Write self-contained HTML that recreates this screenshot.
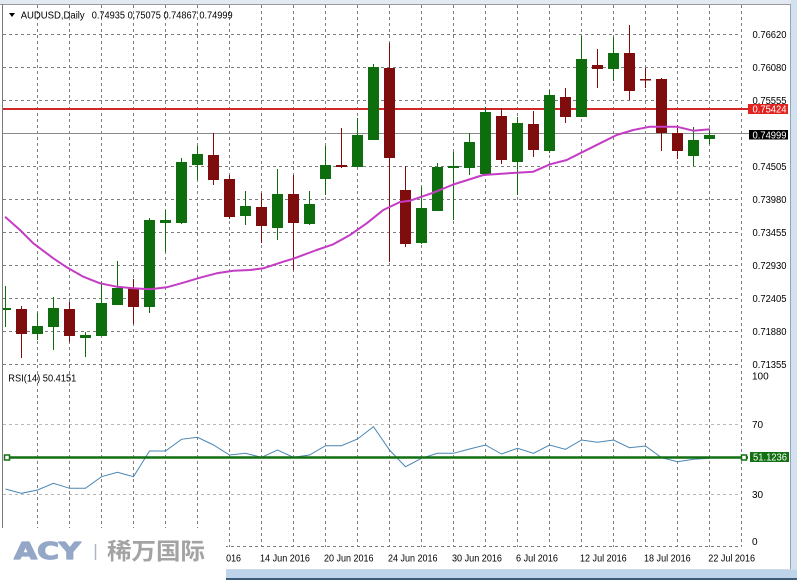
<!DOCTYPE html>
<html><head><meta charset="utf-8"><style>
html,body{margin:0;padding:0;background:#fff;width:797px;height:580px;overflow:hidden}
svg{display:block}
</style></head><body>
<svg width="797" height="580" viewBox="0 0 797 580" xmlns="http://www.w3.org/2000/svg" font-family="'Liberation Sans', sans-serif">
<defs><clipPath id="plot"><rect x="3" y="5" width="739" height="542"/></clipPath></defs>
<rect width="797" height="580" fill="#fff"/>
<!-- frame -->
<rect x="0" y="0" width="797" height="4" fill="#e3e9f0"/>
<line x1="0" y1="4.5" x2="797" y2="4.5" stroke="#9a9a9a"/>
<line x1="2.5" y1="4" x2="2.5" y2="570" stroke="#7a7a7a"/>
<rect x="791" y="0" width="6" height="580" fill="#d3e1ef"/>
<line x1="790.5" y1="4" x2="790.5" y2="570" stroke="#8fa5bb"/>
<line x1="0" y1="569.5" x2="797" y2="569.5" stroke="#d0dae4"/>
<rect x="0" y="570" width="797" height="8" fill="#bdd4eb"/>
<rect x="0" y="578" width="797" height="2" fill="#3e5b79"/>

<!-- vertical grid -->
<g stroke="#7d7d7d" stroke-dasharray="3,3" stroke-width="1">
<line x1="37.5" y1="5" x2="37.5" y2="547"/><line x1="69.5" y1="5" x2="69.5" y2="547"/>
<line x1="101.5" y1="5" x2="101.5" y2="547"/><line x1="133.5" y1="5" x2="133.5" y2="547"/>
<line x1="165.5" y1="5" x2="165.5" y2="547"/><line x1="197.5" y1="5" x2="197.5" y2="547"/>
<line x1="229.5" y1="5" x2="229.5" y2="547"/><line x1="261.5" y1="5" x2="261.5" y2="547"/>
<line x1="293.5" y1="5" x2="293.5" y2="547"/><line x1="325.5" y1="5" x2="325.5" y2="547"/>
<line x1="357.5" y1="5" x2="357.5" y2="547"/><line x1="389.5" y1="5" x2="389.5" y2="547"/>
<line x1="421.5" y1="5" x2="421.5" y2="547"/><line x1="453.5" y1="5" x2="453.5" y2="547"/>
<line x1="485.5" y1="5" x2="485.5" y2="547"/><line x1="517.5" y1="5" x2="517.5" y2="547"/>
<line x1="549.5" y1="5" x2="549.5" y2="547"/><line x1="581.5" y1="5" x2="581.5" y2="547"/>
<line x1="613.5" y1="5" x2="613.5" y2="547"/><line x1="645.5" y1="5" x2="645.5" y2="547"/>
<line x1="677.5" y1="5" x2="677.5" y2="547"/><line x1="709.5" y1="5" x2="709.5" y2="547"/>
<line x1="741.5" y1="5" x2="741.5" y2="547"/>
<!-- horizontal grid main -->
<line x1="3" y1="34.5" x2="741" y2="34.5"/><line x1="3" y1="67.5" x2="741" y2="67.5"/>
<line x1="3" y1="100.5" x2="741" y2="100.5"/><line x1="3" y1="166.5" x2="741" y2="166.5"/>
<line x1="3" y1="199.5" x2="741" y2="199.5"/><line x1="3" y1="232.5" x2="741" y2="232.5"/>
<line x1="3" y1="265.5" x2="741" y2="265.5"/><line x1="3" y1="298.5" x2="741" y2="298.5"/>
<line x1="3" y1="331.5" x2="741" y2="331.5"/><line x1="3" y1="364.5" x2="741" y2="364.5"/>
<line x1="3" y1="546.5" x2="741" y2="546.5"/>
</g>
<g stroke="#b8b8b8" stroke-dasharray="3,3" stroke-width="1">
<line x1="3" y1="424.5" x2="741" y2="424.5"/><line x1="3" y1="494.5" x2="741" y2="494.5"/>
</g>

<!-- bid line -->
<line x1="3" y1="133.5" x2="749" y2="133.5" stroke="#8a8a8a"/>
<!-- red level line -->
<line x1="3" y1="109" x2="748" y2="109" stroke="#d02828" stroke-width="2"/>

<!-- candles -->
<g clip-path="url(#plot)">
<g stroke="#0e6e0e" fill="#0e6e0e" stroke-width="1">
<line x1="5.5" y1="286" x2="5.5" y2="327"/><rect x="0" y="308" width="11" height="2" stroke="none"/>
<line x1="37.5" y1="313" x2="37.5" y2="340"/><rect x="32" y="326" width="11" height="8" stroke="none"/>
<line x1="53.5" y1="297" x2="53.5" y2="350"/><rect x="48" y="308" width="11" height="19" stroke="none"/>
<line x1="85.5" y1="332" x2="85.5" y2="357"/><rect x="80" y="335" width="11" height="3" stroke="none"/>
<line x1="101.5" y1="282" x2="101.5" y2="336"/><rect x="96" y="303" width="11" height="33" stroke="none"/>
<line x1="117.5" y1="261" x2="117.5" y2="305"/><rect x="112" y="288" width="11" height="17" stroke="none"/>
<line x1="149.5" y1="218" x2="149.5" y2="313"/><rect x="144" y="220" width="11" height="87" stroke="none"/>
<line x1="165.5" y1="210" x2="165.5" y2="252"/><rect x="160" y="220" width="11" height="3" stroke="none"/>
<line x1="181.5" y1="158" x2="181.5" y2="224"/><rect x="176" y="162" width="11" height="61" stroke="none"/>
<line x1="197.5" y1="146" x2="197.5" y2="180"/><rect x="192" y="154" width="11" height="11" stroke="none"/>
<line x1="245.5" y1="191" x2="245.5" y2="225"/><rect x="240" y="206" width="11" height="10" stroke="none"/>
<line x1="277.5" y1="169" x2="277.5" y2="240"/><rect x="272" y="194" width="11" height="34" stroke="none"/>
<line x1="309.5" y1="191" x2="309.5" y2="225"/><rect x="304" y="204" width="11" height="20" stroke="none"/>
<line x1="325.5" y1="146" x2="325.5" y2="195"/><rect x="320" y="165" width="11" height="14" stroke="none"/>
<line x1="357.5" y1="118" x2="357.5" y2="167"/><rect x="352" y="135" width="11" height="32" stroke="none"/>
<line x1="373.5" y1="64" x2="373.5" y2="140"/><rect x="368" y="67" width="11" height="73" stroke="none"/>
<line x1="421.5" y1="187" x2="421.5" y2="244"/><rect x="416" y="208" width="11" height="35" stroke="none"/>
<line x1="437.5" y1="163" x2="437.5" y2="211"/><rect x="432" y="167" width="11" height="44" stroke="none"/>
<line x1="453.5" y1="152" x2="453.5" y2="220"/><rect x="448" y="166" width="11" height="2" stroke="none"/>
<line x1="469.5" y1="133" x2="469.5" y2="175"/><rect x="464" y="142" width="11" height="26" stroke="none"/>
<line x1="485.5" y1="107" x2="485.5" y2="174"/><rect x="480" y="112" width="11" height="62" stroke="none"/>
<line x1="517.5" y1="117" x2="517.5" y2="195"/><rect x="512" y="123" width="11" height="39" stroke="none"/>
<line x1="549.5" y1="90" x2="549.5" y2="153"/><rect x="544" y="95" width="11" height="56" stroke="none"/>
<line x1="581.5" y1="36" x2="581.5" y2="117"/><rect x="576" y="59" width="11" height="58" stroke="none"/>
<line x1="613.5" y1="37" x2="613.5" y2="81"/><rect x="608" y="53" width="11" height="16" stroke="none"/>
<line x1="693.5" y1="127" x2="693.5" y2="166"/><rect x="688" y="140" width="11" height="16" stroke="none"/>
<line x1="709.5" y1="130" x2="709.5" y2="144"/><rect x="704" y="135" width="11" height="4" stroke="none"/>
</g>
<g stroke="#800d0d" fill="#800d0d" stroke-width="1">
<line x1="21.5" y1="306" x2="21.5" y2="358"/><rect x="16" y="309" width="11" height="25" stroke="none"/>
<line x1="69.5" y1="302" x2="69.5" y2="342"/><rect x="64" y="309" width="11" height="27" stroke="none"/>
<line x1="133.5" y1="279" x2="133.5" y2="324"/><rect x="128" y="288" width="11" height="19" stroke="none"/>
<line x1="213.5" y1="133" x2="213.5" y2="185"/><rect x="208" y="155" width="11" height="25" stroke="none"/>
<line x1="229.5" y1="175" x2="229.5" y2="219"/><rect x="224" y="179" width="11" height="38" stroke="none"/>
<line x1="261.5" y1="193" x2="261.5" y2="243"/><rect x="256" y="207" width="11" height="19" stroke="none"/>
<line x1="293.5" y1="175" x2="293.5" y2="270"/><rect x="288" y="194" width="11" height="29" stroke="none"/>
<line x1="341.5" y1="128" x2="341.5" y2="168"/><rect x="336" y="165" width="11" height="2" stroke="none"/>
<line x1="389.5" y1="43" x2="389.5" y2="262"/><rect x="384" y="68" width="11" height="90" stroke="none"/>
<line x1="405.5" y1="166" x2="405.5" y2="247"/><rect x="400" y="190" width="11" height="54" stroke="none"/>
<line x1="501.5" y1="108" x2="501.5" y2="164"/><rect x="496" y="116" width="11" height="44" stroke="none"/>
<line x1="533.5" y1="111" x2="533.5" y2="157"/><rect x="528" y="124" width="11" height="26" stroke="none"/>
<line x1="565.5" y1="88" x2="565.5" y2="123"/><rect x="560" y="97" width="11" height="20" stroke="none"/>
<line x1="597.5" y1="49" x2="597.5" y2="88"/><rect x="592" y="65" width="11" height="4" stroke="none"/>
<line x1="629.5" y1="25" x2="629.5" y2="100"/><rect x="624" y="53" width="11" height="38" stroke="none"/>
<line x1="645.5" y1="68" x2="645.5" y2="88"/><rect x="640" y="79" width="11" height="1.5" stroke="none"/>
<line x1="661.5" y1="78" x2="661.5" y2="151"/><rect x="656" y="79" width="11" height="54" stroke="none"/>
<line x1="677.5" y1="125" x2="677.5" y2="159"/><rect x="672" y="133" width="11" height="18" stroke="none"/>
</g>
<!-- moving average -->
<polyline fill="none" stroke="#c43cc4" stroke-width="2" stroke-linejoin="round" points="5,216.7 20,230 33.3,243.3 53.3,258.3 66.7,267.3 83.3,276.7 100,283.3 116.7,286.7 133.3,288.3 150,289.3 166.7,287.3 183.3,282.7 200,277.7 216.7,273.3 233.3,270.7 250,270 263.3,268.3 283.3,261.7 293.3,258.7 316.7,250 333.3,244.3 350,235 366.7,223.3 383.3,210 400,202 410,200.7 433.3,192.7 453.3,184.5 483.3,175 516.7,172.7 533.3,171.7 550,164.3 566.7,160 583.3,151.7 600,143.3 616.7,135 633.3,130 650,126.7 666.7,126.7 676.7,126.7 693.3,130.7 710,129.3"/>
<!-- RSI -->
<polyline fill="none" stroke="#4a86b4" stroke-width="1" points="5.5,489 21.5,493.3 37.5,490 53.5,483.3 69.5,488.3 85.5,488.3 101.5,476.7 117.5,472.3 133.5,476.7 149.5,451 165.5,451 181.5,439.3 197.5,437.3 213.5,445 229.5,455 245.5,453.3 261.5,457.3 277.5,450 293.5,457.3 309.5,455 325.5,445.7 341.5,445.7 357.5,439 373.5,426.7 389.5,450 405.5,466.7 421.5,458.3 437.5,453.3 453.5,453.3 469.5,449 485.5,445 501.5,454 517.5,448.3 533.5,453.3 549.5,445 565.5,449.3 581.5,440 597.5,442.3 613.5,440 629.5,447.7 645.5,446 661.5,457.7 677.5,461.7 693.5,459.3 709.5,458.3"/>
</g>
<!-- RSI level line -->
<line x1="4" y1="457.5" x2="748" y2="457.5" stroke="#126e12" stroke-width="2.5"/>
<rect x="4.5" y="455" width="5" height="5" fill="#fff" stroke="#126e12" stroke-width="1.5"/>
<rect x="741.5" y="455" width="5" height="5" fill="#fff" stroke="#126e12" stroke-width="1.5"/>

<!-- price axis labels -->
<g font-size="10" fill="#000">
<text x="752.5" y="38" textLength="34" lengthAdjust="spacingAndGlyphs">0.76620</text>
<text x="752.5" y="71" textLength="34" lengthAdjust="spacingAndGlyphs">0.76080</text>
<text x="752.5" y="104" textLength="34" lengthAdjust="spacingAndGlyphs">0.75555</text>
<text x="752.5" y="170" textLength="34" lengthAdjust="spacingAndGlyphs">0.74505</text>
<text x="752.5" y="203" textLength="34" lengthAdjust="spacingAndGlyphs">0.73980</text>
<text x="752.5" y="236" textLength="34" lengthAdjust="spacingAndGlyphs">0.73455</text>
<text x="752.5" y="269" textLength="34" lengthAdjust="spacingAndGlyphs">0.72930</text>
<text x="752.5" y="302" textLength="34" lengthAdjust="spacingAndGlyphs">0.72405</text>
<text x="752.5" y="335" textLength="34" lengthAdjust="spacingAndGlyphs">0.71880</text>
<text x="752.5" y="368" textLength="34" lengthAdjust="spacingAndGlyphs">0.71355</text>
<text x="752" y="379.5">100</text>
<text x="752" y="428">70</text>
<text x="752" y="498">30</text>
<text x="752" y="545">0</text>
</g>
<rect x="748" y="104" width="40" height="10" fill="#e2221f"/>
<text x="752.5" y="112.5" font-size="10" fill="#fff" textLength="34" lengthAdjust="spacingAndGlyphs">0.75424</text>
<rect x="749" y="130" width="39" height="9.5" fill="#000"/>
<text x="752.5" y="138.5" font-size="10" fill="#fff" textLength="34" lengthAdjust="spacingAndGlyphs">0.74999</text>
<rect x="750" y="452" width="39" height="10" fill="#137013"/>
<text x="753" y="460.5" font-size="10" fill="#fff" textLength="34" lengthAdjust="spacingAndGlyphs">51.1236</text>

<!-- title -->
<polygon points="9,13 15,13 12,17" fill="#000"/>
<text x="20.7" y="18.5" font-size="10" fill="#000" textLength="64" lengthAdjust="spacingAndGlyphs">AUDUSD,Daily</text>
<text x="91.7" y="18.5" font-size="10" fill="#000" textLength="141" lengthAdjust="spacingAndGlyphs">0.74935 0.75075 0.74867 0.74999</text>
<text x="8.3" y="381.5" font-size="10" fill="#000" textLength="68" lengthAdjust="spacingAndGlyphs">RSI(14) 50.4151</text>

<!-- date labels -->
<g font-size="10" fill="#000">
<text x="197" y="561.5" textLength="44" lengthAdjust="spacingAndGlyphs">8 Jun 2016</text>
<text x="260" y="561.5" textLength="50" lengthAdjust="spacingAndGlyphs">14 Jun 2016</text>
<text x="324" y="561.5" textLength="49.5" lengthAdjust="spacingAndGlyphs">20 Jun 2016</text>
<text x="388" y="561.5" textLength="49.5" lengthAdjust="spacingAndGlyphs">24 Jun 2016</text>
<text x="452" y="561.5" textLength="50" lengthAdjust="spacingAndGlyphs">30 Jun 2016</text>
<text x="516" y="561.5" textLength="42" lengthAdjust="spacingAndGlyphs">6 Jul 2016</text>
<text x="580" y="561.5" textLength="46.7" lengthAdjust="spacingAndGlyphs">12 Jul 2016</text>
<text x="644" y="561.5" textLength="46.7" lengthAdjust="spacingAndGlyphs">18 Jul 2016</text>
<text x="708.3" y="561.5" textLength="46.7" lengthAdjust="spacingAndGlyphs">22 Jul 2016</text>
</g>

<!-- logo -->
<rect x="0" y="528" width="226" height="52" fill="#fff"/>
<g transform="translate(14,559) scale(1.3,1)">
<text x="0" y="0" font-size="23" font-weight="bold" fill="#94a7c7" stroke="#94a7c7" stroke-width="1.2" stroke-linejoin="round" font-family="'DejaVu Sans', sans-serif">ACY</text>
</g>
<line x1="95.5" y1="544" x2="95.5" y2="560" stroke="#aab6c8" stroke-width="1.5"/>
<text x="107" y="559" font-size="23" font-weight="bold" fill="#a3a3a3" font-family="'Liberation Sans','Noto Sans CJK SC',sans-serif" textLength="98" lengthAdjust="spacingAndGlyphs">稀万国际</text>
</svg>
</body></html>
